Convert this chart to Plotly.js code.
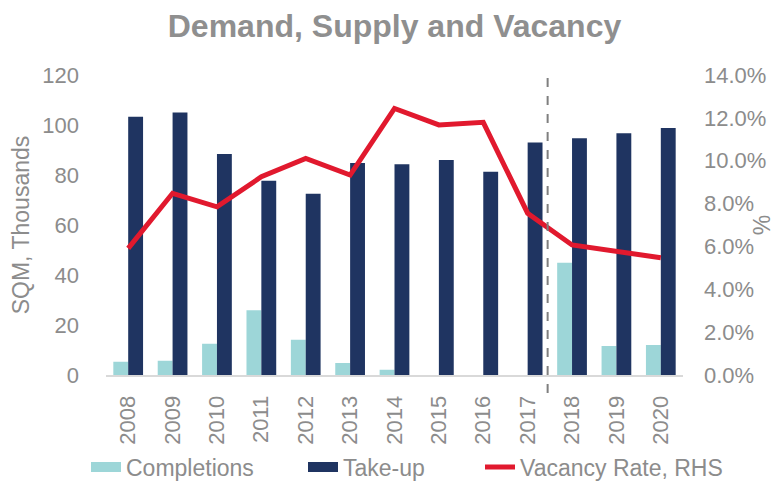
<!DOCTYPE html>
<html>
<head>
<meta charset="utf-8">
<script src="https://cdn.plot.ly/plotly-3.0.1.min.js"></script>
<style>html,body{margin:0;padding:0;background:#fff;}#chart{width:775px;height:483px;}</style>
</head>
<body>
<div id="chart"></div>
<script>
const years = ['2008','2009','2010','2011','2012','2013','2014','2015','2016','2017','2018','2019','2020'];
const completions = [5.3, 5.7, 12.5, 25.9, 14.1, 4.8, 2.1, 0, 0, 0, 44.9, 11.6, 12.0];
const takeUp = [103.3, 105.0, 88.4, 77.7, 72.5, 84.8, 84.3, 86.0, 81.3, 93.0, 94.7, 96.7, 98.8];
const vacancy = [0.0591, 0.0848, 0.0785, 0.0925, 0.1011, 0.0933, 0.1244, 0.1167, 0.1179, 0.0755, 0.0607, 0.0575, 0.0547];
const forecastSplit = 9.45; // between 2017 and 2018

const FONT = 'Liberation Sans, Arial, sans-serif';
const GREY = '#8c8c8c';
const C_COMP = '#9dd6d8';
const C_TAKE = '#1f3461';
const C_VAC = '#e1192e';

const traces = [
  {type:'bar', name:'Completions', x:years, y:completions, marker:{color:C_COMP}, showlegend:false},
  {type:'bar', name:'Take-up', x:years, y:takeUp, marker:{color:C_TAKE}, showlegend:false},
  {type:'scatter', mode:'lines', name:'Vacancy Rate, RHS', x:years, y:vacancy, yaxis:'y2', line:{color:C_VAC, width:5}, showlegend:false},
  // legend swatches
  {type:'scatter', mode:'lines', name:'Completions', x:[null], y:[null], line:{color:C_COMP, width:12}, legend:'legend'},
  {type:'scatter', mode:'lines', name:'Take-up', x:[null], y:[null], line:{color:C_TAKE, width:12}, legend:'legend2'},
  {type:'scatter', mode:'lines', name:'Vacancy Rate, RHS', x:[null], y:[null], yaxis:'y2', line:{color:C_VAC, width:5}, legend:'legend3'}
];

function leg(xpx){
  return {orientation:'h', x:xpx/775, xanchor:'left', xref:'container', y:1-467/483, yanchor:'middle', yref:'container', font:{size:23, color:GREY}, bgcolor:'rgba(0,0,0,0)'};
}

const layout = {
  width:775, height:483,
  margin:{l:106, r:92, t:75, b:108, pad:0},
  paper_bgcolor:'#ffffff', plot_bgcolor:'#ffffff',
  font:{family:FONT, color:GREY, size:22},
  title:{text:'<b>Demand, Supply and Vacancy</b>', font:{family:FONT, size:32, color:'#8f8f8f'}, x:0.5, xanchor:'center', xref:'paper', y:1-26/483, yanchor:'middle', yref:'container'},
  barmode:'group', bargap:0.33, bargroupgap:0,
  xaxis:{type:'category', tickangle:-90, ticks:'', showline:true, linecolor:'#d9d9d9', linewidth:2, showgrid:false, zeroline:false, tickfont:{size:22, color:GREY}, ticklabelstandoff:10, automargin:false},
  yaxis:{range:[0,120], dtick:20, showgrid:false, zeroline:false, showline:false, ticks:'', tickfont:{size:22, color:GREY}, ticklabelstandoff:26, automargin:false,
         title:{text:'SQM, Thousands', font:{size:23, color:GREY}, standoff:6}},
  yaxis2:{overlaying:'y', side:'right', range:[0,0.14], dtick:0.02, tickformat:'.1%', showgrid:false, zeroline:false, showline:false, ticks:'', tickfont:{size:22, color:GREY}, ticklabelstandoff:20, automargin:false,
         title:{text:'%', font:{size:23, color:GREY}, standoff:4}},
  legend:leg(86),
  legend2:leg(303),
  legend3:leg(480),
  shapes:[{type:'line', xref:'x', yref:'paper', x0:forecastSplit, x1:forecastSplit, y0:-0.06, y1:1.017, line:{color:'#7f7f7f', width:2, dash:'dash'}}],
  showlegend:true
};

Plotly.newPlot('chart', traces, layout, {displayModeBar:false, staticPlot:true});
</script>
</body>
</html>
